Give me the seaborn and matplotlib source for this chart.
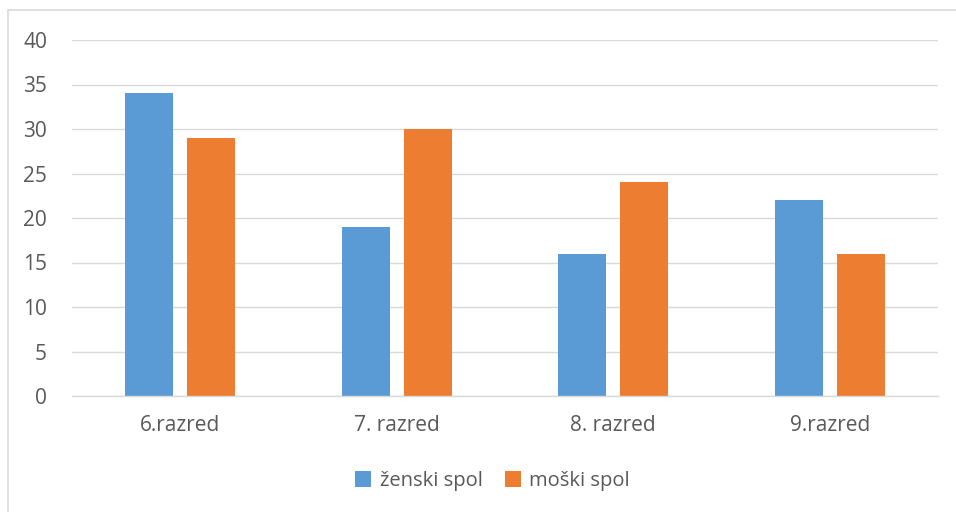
import pandas as pd
import matplotlib
matplotlib.use('Agg')
import matplotlib.pyplot as plt
import seaborn as sns
from matplotlib.patches import Rectangle

# Data
razredi = ['6.razred', '7. razred', '8. razred', '9.razred']
zenski = [34, 19, 16, 22]
moski = [29, 30, 24, 16]
serije = ['ženski spol', 'moški spol']

df = pd.DataFrame({
    'Razred': razredi * 2,
    'Spol': [serije[0]] * 4 + [serije[1]] * 4,
    'Vrednost': zenski + moski,
})

sns.set_theme(style="white")
plt.rcParams['font.family'] = ['Open Sans', 'DejaVu Sans']

fig = plt.figure(figsize=(9.56, 5.12), dpi=100)
ax = fig.add_axes([72 / 956, 1 - 396 / 512, 866 / 956, 356 / 512])

sns.barplot(data=df, x='Razred', y='Vrednost', hue='Spol',
            palette=['#5B9BD5', '#ED7D31'], width=0.573, gap=0.226,
            saturation=1, linewidth=0, ax=ax, legend=True)

ax.set_ylim(0, 40)
ax.set_xlim(-0.5, 3.5)
ax.set_yticks(range(0, 41, 5))
ax.yaxis.grid(True, color='#d9d9d9', linewidth=1)
ax.set_axisbelow(True)
for s in ['top', 'right', 'left']:
    ax.spines[s].set_visible(False)
ax.spines['bottom'].set_color('#d9d9d9')
ax.spines['bottom'].set_linewidth(1)
ax.tick_params(axis='both', length=0, labelsize=15, colors='#595959')
ax.tick_params(axis='y', pad=18)
ax.tick_params(axis='x', pad=14)
ax.set_xlabel('')
ax.set_ylabel('')

leg = ax.legend(loc='center', bbox_to_anchor=(0.515, 1 - 481 / 512), bbox_transform=fig.transFigure,
                ncol=2, frameon=False, fontsize=14.5, handlelength=0.8, handleheight=0.8,
                handletextpad=0.4, columnspacing=1.1)
for t in leg.get_texts():
    t.set_color('#595959')

# light frame around chart area (only left/top visible in reference)
fig.patches.append(Rectangle((8 / 956, -0.05), 1.1, 0.05 + 1 - 10 / 512,
                             transform=fig.transFigure, fill=False,
                             edgecolor='#d9d9d9', linewidth=1.2))

fig.savefig('out.png', dpi=100)
